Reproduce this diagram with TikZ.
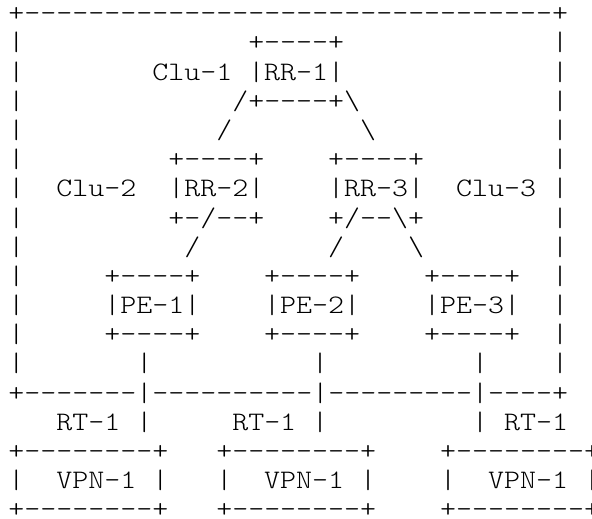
\documentclass[tikz,border=0pt]{standalone}
\usepackage{fontspec}
\newfontfamily\asciifont{lmmonolt10-regular.otf}[FakeStretch=1.141,Ligatures=TeXOff]

\begin{document}
\begin{tikzpicture}[
    x=15.99pt, y=-29.18pt,
    cell/.style={
      anchor=base west,
      inner sep=0pt,
      outer sep=0pt,
      font=\asciifont\fontsize{26.7pt}{29.18pt}\selectfont,
    },
  ]
  \clip (0pt,0pt) rectangle (592pt,-519pt);
  \begin{scope}[shift={(8.4pt,-21.8pt)}]
    % outer frame of the three clusters
    \node[cell] (frame-top) at (0,0) {+---------------------------------+};
    \foreach \r in {1,...,12} {
      \node[cell] (frame-left-\r)  at (0,\r)  {|};
      \node[cell] (frame-right-\r) at (34,\r) {|};
    }
    \node[cell] (frame-bottom) at (0,13) {+-------|----------|---------|----+};
    % route reflectors
    \node[cell] (rr1-top)    at (15,1) {+----+};
    \node[cell] (clu1)       at (9,2)  {Clu-1};
    \node[cell] (rr1)        at (15,2) {|RR-1|};
    \node[cell] (rr1-bottom) at (14,3) {/+----+\textbackslash};
    \node[cell] (rr1-rr2)    at (13,4) {/};
    \node[cell] (rr1-rr3)    at (22,4) {\textbackslash};
    \node[cell] (rr2-top)    at (10,5) {+----+};
    \node[cell] (rr3-top)    at (20,5) {+----+};
    \node[cell] (clu2)       at (3,6)  {Clu-2};
    \node[cell] (rr2)        at (10,6) {|RR-2|};
    \node[cell] (rr3)        at (20,6) {|RR-3|};
    \node[cell] (clu3)       at (28,6) {Clu-3};
    \node[cell] (rr2-bottom) at (10,7) {+-/--+};
    \node[cell] (rr3-bottom) at (20,7) {+/--\textbackslash+};
    \node[cell] (rr2-pe1)    at (11,8) {/};
    \node[cell] (rr3-pe2)    at (20,8) {/};
    \node[cell] (rr3-pe3)    at (25,8) {\textbackslash};
    % provider edge routers
    \foreach \n/\c in {1/6,2/16,3/26} {
      \node[cell] (pe\n-top)    at (\c,9)  {+----+};
      \node[cell] (pe\n)        at (\c,10) {|PE-\n|};
      \node[cell] (pe\n-bottom) at (\c,11) {+----+};
    }
    \node[cell] (pe1-link) at (8,12)  {|};
    \node[cell] (pe2-link) at (19,12) {|};
    \node[cell] (pe3-link) at (29,12) {|};
    % route targets and vpn sites
    \node[cell] (rt-a)      at (3,14)  {RT-1};
    \node[cell] (pe1-rt)    at (8,14)  {|};
    \node[cell] (rt-b)      at (14,14) {RT-1};
    \node[cell] (pe2-rt)    at (19,14) {|};
    \node[cell] (pe3-rt)    at (29,14) {|};
    \node[cell] (rt-c)      at (31,14) {RT-1};
    \foreach \s/\c in {a/0,b/13,c/27} {
      \node[cell] (vpn-\s-top)    at (\c,15)   {+--------+};
      \node[cell] (vpn-\s-left)   at (\c,16)   {|};
      \node[cell] (vpn-\s)        at (\c+3,16) {VPN-1};
      \node[cell] (vpn-\s-right)  at (\c+9,16) {|};
      \node[cell] (vpn-\s-bottom) at (\c,17)   {+--------+};
    }
  \end{scope}
\end{tikzpicture}
\end{document}
